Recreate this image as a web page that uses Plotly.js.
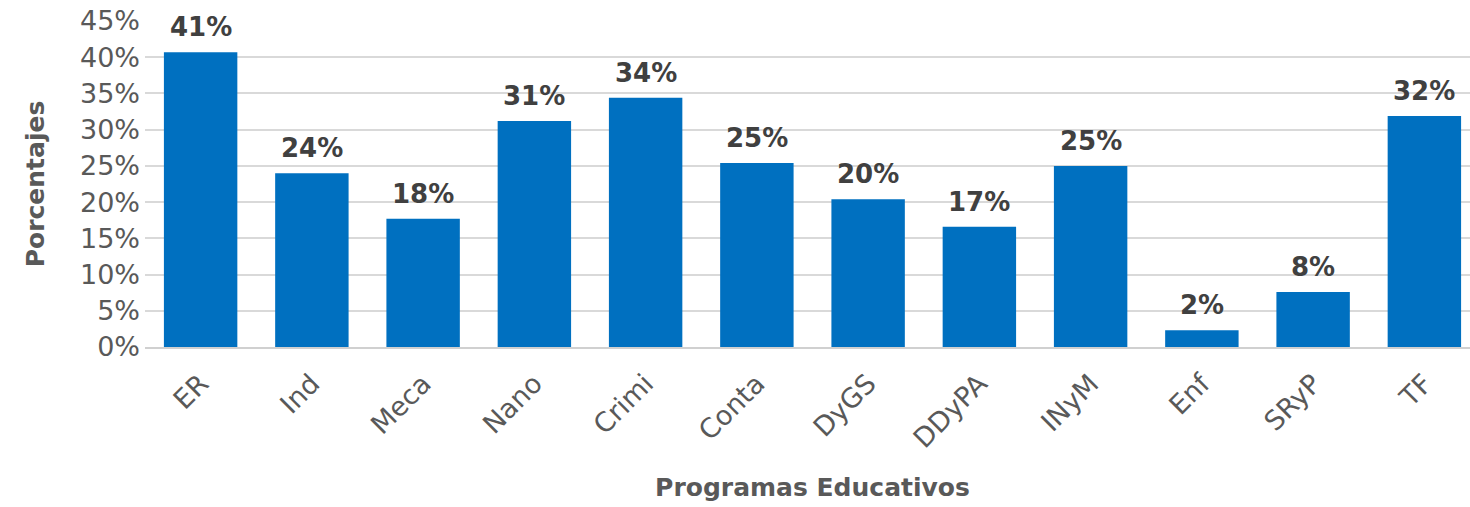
<!DOCTYPE html>
<html>
<head>
<meta charset="utf-8">
<script src="https://cdn.plot.ly/plotly-3.0.1.min.js"></script>
<style>
html,body{margin:0;padding:0;overflow:hidden;background:#fff;}
#chart{width:1480px;height:507px;}
</style>
</head>
<body>
<div id="chart"></div>
<script>
const categories = ['ER','Ind','Meca','Nano','Crimi','Conta','DyGS','DDyPA','INyM','Enf','SRyP','TF'];
const values = [40.7, 24.0, 17.7, 31.2, 34.4, 25.4, 20.4, 16.6, 25.0, 2.3, 7.6, 31.9];
const labels = ['41%','24%','18%','31%','34%','25%','20%','17%','25%','2%','8%','32%'];
const yTickVals = [0,5,10,15,20,25,30,35,40,45];

const FONT = 'DejaVu Sans, sans-serif';

const trace = {
  type: 'bar',
  x: categories,
  y: values,
  marker: {color: '#0070C0'},
  hoverinfo: 'skip'
};

const annotations = categories.map((c, i) => ({
  x: c, y: values[i], text: '<b>' + labels[i] + '</b>',
  showarrow: false, yanchor: 'bottom', yshift: 8,
  font: {family: FONT, size: 26, color: '#404040'}
}));

const layout = {
  width: 1480, height: 507,
  margin: {l: 145, r: 0, t: 21, b: 160},
  paper_bgcolor: '#fff', plot_bgcolor: '#fff',
  bargap: 0.34,
  showlegend: false,
  font: {family: FONT, color: '#595959'},
  xaxis: {
    type: 'category',
    tickangle: -45,
    tickfont: {family: FONT, size: 27, color: '#595959'},
    showgrid: false,
    showline: true, linecolor: '#d0d0d0', linewidth: 2,
    ticks: '',
    ticklabelstandoff: 8,
    title: {text: '<b>Programas Educativos</b>', font: {family: FONT, size: 25, color: '#595959'}, standoff: 26}
  },
  yaxis: {
    range: [0, 45],
    tickvals: yTickVals,
    ticktext: yTickVals.map(v => v + '%'),
    tickfont: {family: FONT, size: 27, color: '#595959'},
    showgrid: true, gridcolor: '#d9d9d9', gridwidth: 2,
    zeroline: false,
    ticks: '',
    ticklabelstandoff: 4,
    title: {text: '<b>Porcentajes</b>', font: {family: FONT, size: 25, color: '#595959'}, standoff: 28}
  },
  annotations: annotations
};

Plotly.newPlot('chart', [trace], layout, {displayModeBar: false, staticPlot: true});
</script>
</body>
</html>
